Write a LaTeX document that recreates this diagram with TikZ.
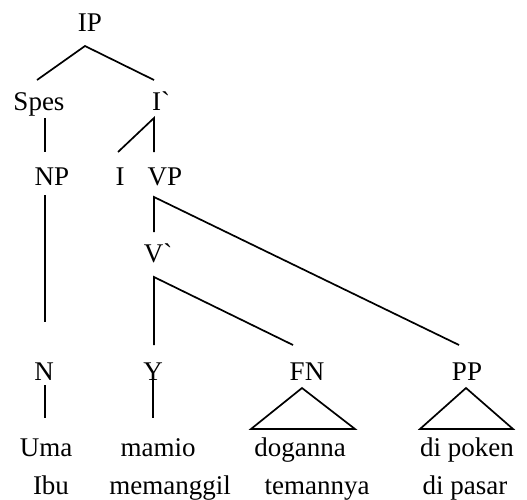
\documentclass[tikz,border=0pt]{standalone}
\usepackage{fontspec}
% TeX input mapping off, so that ` stays a plain grave accent
\setmainfont{Liberation Serif}[Ligatures=TeXOff]
\begin{document}
\begin{tikzpicture}[x=1pt,y=-1pt,
  lbl/.style={anchor=base,inner sep=0pt,font=\fontsize{27}{32}\selectfont},
  branch/.style={line width=1.7pt},
  roof/.style={line width=1.7pt,line join=miter}]
\useasboundingbox (0,0) rectangle (527,499);

% category labels
\node[lbl] (IP)   at (90,31)  {IP};
\node[lbl] (Spes) at (39,110) {Spes};
\node[lbl] (Ibar) at (161,110) {I`};
\node[lbl] (NP)   at (52,185) {NP};
\node[lbl] (I)    at (120,185) {I};
\node[lbl] (VP)   at (165,185) {VP};
\node[lbl] (Vbar) at (158,262) {V`};
\node[lbl] (N)    at (44,380) {N};
\node[lbl] (V)    at (153,380) {Y};
\node[lbl] (FN)   at (307,380) {FN};
\node[lbl] (PP)   at (467,380) {PP};

% words and glosses
\node[lbl] (w1) at (46,456)  {Uma};
\node[lbl] (w2) at (158,456) {mamio};
\node[lbl] (w3) at (300,456) {doganna};
\node[lbl] (w4) at (467,456) {di poken};
\node[lbl] (g1) at (51,494)  {Ibu};
\node[lbl] (g2) at (170,494) {memanggil};
\node[lbl] (g3) at (317,494) {temannya};
\node[lbl] (g4) at (465,494) {di pasar};

% branch end points
\coordinate (IP-b)   at (85,46);
\coordinate (Spes-t) at (37,80);
\coordinate (Ibar-t) at (154,80);
\coordinate (Spes-b) at (45,118);
\coordinate (NP-t)   at (45,152);
\coordinate (Ibar-b) at (154,118);
\coordinate (I-t)    at (118,152);
\coordinate (VP-t)   at (154,152);
\coordinate (NP-b)   at (45,195);
\coordinate (N-t)    at (45,322);
\coordinate (VP-b)   at (154,197);
\coordinate (Vbar-t) at (154,232);
\coordinate (PP-t)   at (459,345);
\coordinate (Vbar-b) at (154,277);
\coordinate (V-t)    at (154,345);
\coordinate (FN-t)   at (293,345);
\coordinate (N-b)    at (45,385);
\coordinate (w1-t)   at (45,418);
\coordinate (V-b)    at (153,378);
\coordinate (w2-t)   at (153,418);
\coordinate (FN-b)   at (302,388);
\coordinate (w3-l)   at (251,429);
\coordinate (w3-r)   at (355,429);
\coordinate (PP-b)   at (466,388);
\coordinate (w4-l)   at (420,429);
\coordinate (w4-r)   at (513,429);

% branches
\draw[branch] (Spes-t) -- (IP-b) -- (Ibar-t);
\draw[branch] (Spes-b) -- (NP-t);
\draw[branch] (I-t) -- (Ibar-b) -- (VP-t);
\draw[branch] (NP-b) -- (N-t);
\draw[branch] (Vbar-t) -- (VP-b) -- (PP-t);
\draw[branch] (V-t) -- (Vbar-b) -- (FN-t);
\draw[branch] (N-b) -- (w1-t);
\draw[branch] (V-b) -- (w2-t);

% triangles over unanalysed phrases
\draw[roof] (FN-b) -- (w3-l) -- (w3-r) -- cycle;
\draw[roof] (PP-b) -- (w4-l) -- (w4-r) -- cycle;
\end{tikzpicture}
\end{document}
